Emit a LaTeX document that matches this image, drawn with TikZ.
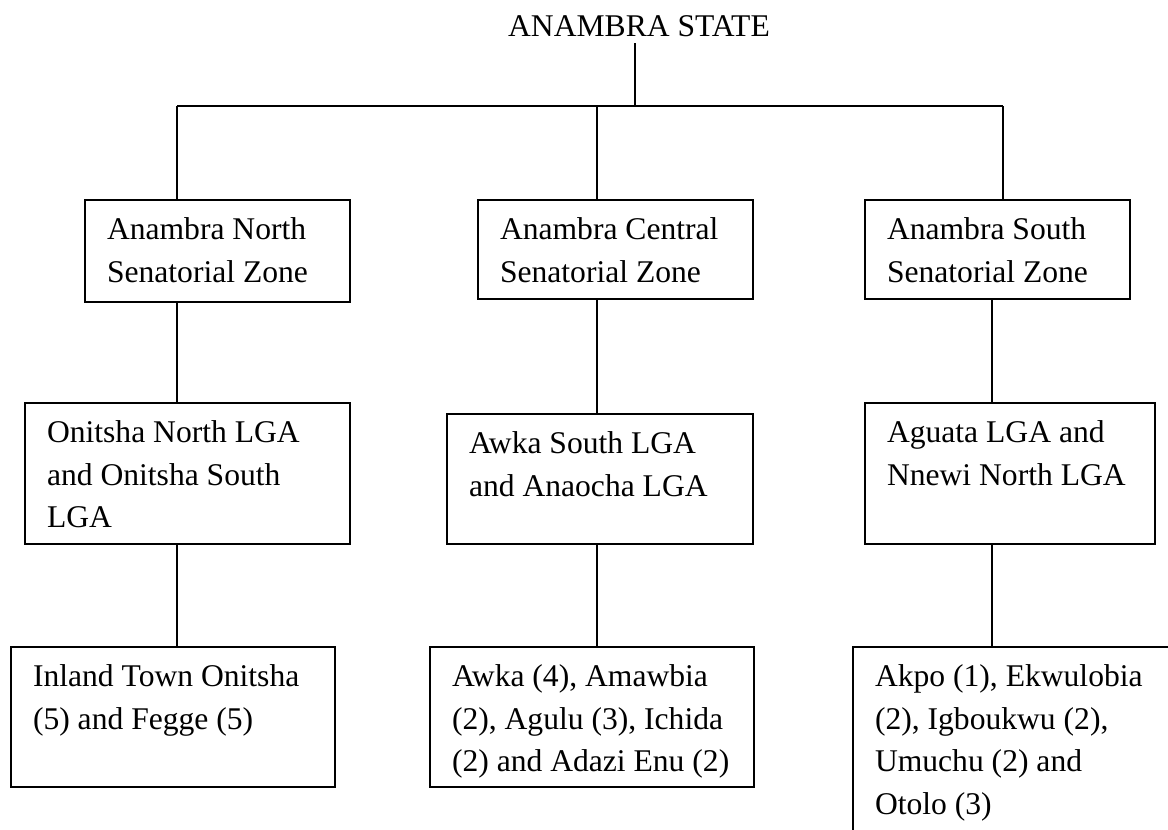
\documentclass[tikz,border=0pt]{standalone}
\usepackage{fontspec}
\setmainfont{Liberation Serif}
\usepackage{tikz}
\newcommand{\boxtxt}[3]{\parbox[c][#1][t]{#2}{\raggedright\strut#3}}

\begin{document}
\begin{tikzpicture}[x=0.5pt, y=-0.5pt,
    every node/.style={font=\fontsize{15.8}{21.25}\selectfont},
    zone/.style={draw, line width=1pt, anchor=north west, inner xsep=11pt, inner ysep=5pt},
    link/.style={line width=0.7pt}]
  \clip (0,0) rectangle (1168,830);

  % state
  \node[anchor=base] (state) at (639,36) {ANAMBRA STATE};

  % senatorial zones
  \node[zone] (north) at (84,199) {\boxtxt{41pt}{110.5pt}{Anambra North\\Senatorial Zone}};
  \node[zone] (central) at (477,199) {\boxtxt{39.5pt}{115.5pt}{Anambra Central\\Senatorial Zone}};
  \node[zone] (south) at (864,199) {\boxtxt{39.5pt}{110.5pt}{Anambra South\\Senatorial Zone}};

  % LGAs
  \node[zone] (northlga) at (24,402) {\boxtxt{60.5pt}{140.5pt}{Onitsha North LGA\\and Onitsha South\\LGA}};
  \node[zone] (centrallga) at (446,413) {\boxtxt{55pt}{131pt}{Awka South LGA\\and Anaocha LGA}};
  \node[zone] (southlga) at (864,402) {\boxtxt{60.5pt}{123pt}{Aguata LGA and\\Nnewi North LGA}};

  % towns
  \node[zone] (inland) at (10,646) {\boxtxt{60pt}{140pt}{Inland Town Onitsha\\(5) and Fegge (5)}};
  \node[zone] (awka) at (429,646) {\boxtxt{60pt}{140pt}{Awka (4), Amawbia\\(2), Agulu (3), Ichida\\(2) and Adazi Enu (2)}};
  \node[zone] (akpo) at (852,646) {\boxtxt{90pt}{148pt}{Akpo (1), Ekwulobia\\(2), Igboukwu (2),\\Umuchu (2) and\\Otolo (3)}};

  % junctions
  \coordinate (hub) at (635,106);
  \coordinate (jn) at (177,106);
  \coordinate (jc) at (597,106);
  \coordinate (js) at (1003,106);
  \coordinate (ls) at (992,106);

  \draw[link] (state.south -| hub) -- (hub);
  \draw[link] (jn) -- (js);
  \draw[link] (jn) -- (north.north -| jn);
  \draw[link] (jc) -- (central.north -| jc);
  \draw[link] (js) -- (south.north -| js);

  \draw[link] (north.south -| jn) -- (northlga.north -| jn);
  \draw[link] (central.south -| jc) -- (centrallga.north -| jc);
  \draw[link] (south.south -| ls) -- (southlga.north -| ls);

  \draw[link] (northlga.south -| jn) -- (inland.north -| jn);
  \draw[link] (centrallga.south -| jc) -- (awka.north -| jc);
  \draw[link] (southlga.south -| ls) -- (akpo.north -| ls);
\end{tikzpicture}
\end{document}
